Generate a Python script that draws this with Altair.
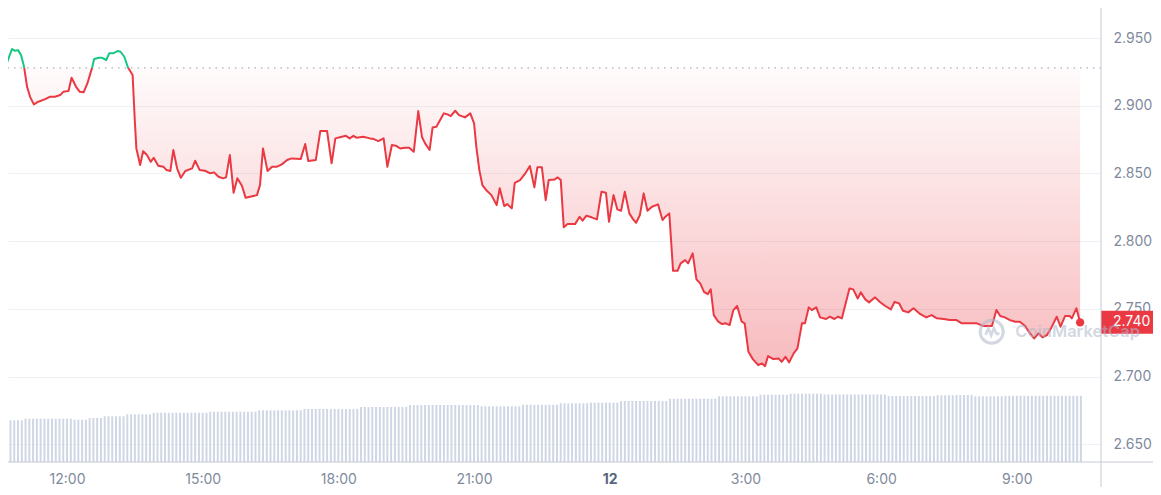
import altair as alt
import pandas as pd

# ---------------- data ----------------
BASELINE = 2.928  # opening price (dotted reference line)

# minutes after 10:30 (day 11)
price_minutes = [
    0, 5, 10, 17, 21, 25, 29, 33, 37, 41,
    46, 52, 61, 67, 74, 81, 85, 92, 96, 102,
    107, 112, 117, 123, 126, 132, 136, 142, 146, 151,
    157, 161, 166, 171, 177, 180, 182, 187, 191, 196,
    201, 205, 211, 218, 222, 227, 231, 236, 241, 247,
    256, 260, 266, 273, 280, 285, 291, 297, 301, 306,
    311, 316, 322, 327, 333, 342, 346, 350, 356, 362,
    368, 375, 382, 388, 400, 406, 410, 420, 426, 435,
    441, 446, 452, 460, 465, 470, 474, 483, 492, 497,
    503, 510, 515, 521, 526, 532, 538, 544, 550, 556,
    561, 565, 571, 575, 580, 585, 590, 595, 599, 605,
    610, 618, 625, 630, 633, 637, 641, 647, 653, 660,
    664, 670, 674, 680, 684, 691, 698, 704, 710, 714,
    720, 725, 729, 737, 741, 745, 749, 754, 764, 770,
    774, 779, 786, 793, 799, 805, 809, 815, 820, 825,
    830, 836, 841, 845, 850, 855, 860, 866, 874, 880,
    883, 889, 894, 900, 904, 910, 914, 920, 925, 930,
    935, 940, 944, 948, 954, 959, 964, 969, 974, 979,
    985, 989, 994, 1000, 1007, 1012, 1016, 1020, 1027, 1034,
    1038, 1043, 1048, 1054, 1059, 1065, 1069, 1074, 1078, 1084,
    1089, 1097, 1102, 1108, 1113, 1118, 1128, 1133, 1139, 1143,
    1149, 1154, 1162, 1168, 1175, 1183, 1188, 1194, 1199, 1206,
    1213, 1222, 1230, 1237, 1244, 1253, 1261, 1270, 1277, 1288,
    1297, 1306, 1317, 1323, 1328, 1334, 1341, 1348, 1354, 1361,
    1367, 1373, 1379, 1384, 1390, 1396, 1403, 1408, 1414, 1420,
    1423, 1429, 1434,
]
price_values = [
    2.9281, 2.9355, 2.9313, 2.9419, 2.9406, 2.9411, 2.9374, 2.9288, 2.9140, 2.9066,
    2.9010, 2.9030, 2.9049, 2.9066, 2.9066, 2.9079, 2.9103, 2.9109, 2.9207, 2.9140,
    2.9103, 2.9099, 2.9165, 2.9276, 2.9345, 2.9355, 2.9355, 2.9338, 2.9387, 2.9387,
    2.9404, 2.9399, 2.9362, 2.9281, 2.9227, 2.8882, 2.8685, 2.8562, 2.8665, 2.8636,
    2.8586, 2.8616, 2.8557, 2.8549, 2.8525, 2.8518, 2.8673, 2.8538, 2.8468, 2.8518,
    2.8538, 2.8594, 2.8525, 2.8520, 2.8501, 2.8508, 2.8476, 2.8464, 2.8471, 2.8636,
    2.8357, 2.8464, 2.8409, 2.8320, 2.8328, 2.8340, 2.8414, 2.8685, 2.8518, 2.8549,
    2.8549, 2.8567, 2.8599, 2.8611, 2.8606, 2.8717, 2.8592, 2.8599, 2.8813, 2.8813,
    2.8575, 2.8759, 2.8767, 2.8778, 2.8759, 2.8778, 2.8764, 2.8771, 2.8759, 2.8754,
    2.8739, 2.8759, 2.8549, 2.8710, 2.8705, 2.8685, 2.8690, 2.8690, 2.8660, 2.8961,
    2.8767, 2.8722, 2.8673, 2.8840, 2.8845, 2.8894, 2.8944, 2.8936, 2.8924, 2.8963,
    2.8931, 2.8914, 2.8944, 2.8870, 2.8697, 2.8525, 2.8414, 2.8372, 2.8340, 2.8267,
    2.8390, 2.8259, 2.8274, 2.8242, 2.8431, 2.8451, 2.8501, 2.8555, 2.8397, 2.8545,
    2.8545, 2.8303, 2.8451, 2.8456, 2.8471, 2.8451, 2.8102, 2.8126, 2.8126, 2.8180,
    2.8151, 2.8188, 2.8176, 2.8161, 2.8365, 2.8357, 2.8143, 2.8340, 2.8235, 2.8224,
    2.8365, 2.8205, 2.8161, 2.8136, 2.8193, 2.8353, 2.8224, 2.8254, 2.8272, 2.8156,
    2.8176, 2.8205, 2.7781, 2.7781, 2.7836, 2.7860, 2.7836, 2.7910, 2.7718, 2.7688,
    2.7626, 2.7609, 2.7644, 2.7454, 2.7405, 2.7388, 2.7393, 2.7380, 2.7491, 2.7521,
    2.7405, 2.7393, 2.7183, 2.7127, 2.7085, 2.7097, 2.7077, 2.7151, 2.7129, 2.7134,
    2.7109, 2.7146, 2.7105, 2.7171, 2.7208, 2.7393, 2.7393, 2.7511, 2.7491, 2.7511,
    2.7437, 2.7425, 2.7442, 2.7425, 2.7442, 2.7430, 2.7651, 2.7644, 2.7577, 2.7622,
    2.7570, 2.7548, 2.7585, 2.7552, 2.7523, 2.7496, 2.7552, 2.7540, 2.7486, 2.7474,
    2.7504, 2.7461, 2.7437, 2.7454, 2.7430, 2.7425, 2.7417, 2.7417, 2.7393, 2.7393,
    2.7393, 2.7373, 2.7373, 2.7491, 2.7447, 2.7437, 2.7417, 2.7405, 2.7405, 2.7373,
    2.7323, 2.7282, 2.7319, 2.7289, 2.7306, 2.7363, 2.7442, 2.7368, 2.7447, 2.7447,
    2.7430, 2.7504, 2.7400,
]

# 24h volume bars (one bar every 5 minutes), run-length levels
vol_levels = [4.17, 4.33, 4.23, 4.40, 4.57, 4.77, 4.93, 5.03, 5.17, 5.30, 5.50, 5.70, 5.57,
              5.73, 5.87, 5.93, 6.10, 6.33, 6.57, 6.73, 6.83, 6.75, 6.60, 6.67, 6.70, 6.57, 6.62]
vol_counts = [7, 13, 4, 4, 6, 7, 15, 13, 12, 15, 13, 19, 11,
              10, 8, 8, 13, 13, 11, 8, 9, 17, 13, 5, 5, 8, 21]
VOL_STEP = 5

tick_minutes = [90, 270, 450, 630, 810, 990, 1170, 1350]
tick_labels = ["12:00", "15:00", "18:00", "21:00", "12", "3:00", "6:00", "9:00"]
price_ticks = [2.65, 2.70, 2.75, 2.80, 2.85, 2.90, 2.95]

X_DOMAIN = [11.7, 1461.7]
Y_DOMAIN = [2.6369, 2.9722]
VOL_DOMAIN = [0, 45.4]

W, H = 1093, 454
PAD_R, PAD_B = 52, 25

RED = "#ea3943"
GREEN = "#16c784"
LABEL_GREY = "#808a9d"
FONT = "Inter"

# ---------------- build tables ----------------
def side_of(p):
    return "up" if p >= BASELINE else "down"

rows = []
seg = 0
cur = side_of(price_values[0])
rows.append(dict(m=price_minutes[0], p=price_values[0], seg=seg, side=cur))
for i in range(1, len(price_values)):
    m0, p0 = price_minutes[i - 1], price_values[i - 1]
    m1, p1 = price_minutes[i], price_values[i]
    s1 = side_of(p1)
    if s1 != cur:
        f = (BASELINE - p0) / (p1 - p0)
        mc = m0 + f * (m1 - m0)
        rows.append(dict(m=mc, p=BASELINE, seg=seg, side=cur))
        seg += 1
        cur = s1
        rows.append(dict(m=mc, p=BASELINE, seg=seg, side=cur))
    rows.append(dict(m=m1, p=p1, seg=seg, side=cur))
line_df = pd.DataFrame(rows)

area_df = line_df.drop_duplicates(subset=["m"]).sort_values("m").copy()
area_df["pa"] = area_df["p"].clip(upper=BASELINE)
area_df["base"] = BASELINE

vols = []
for lv, c in zip(vol_levels, vol_counts):
    vols += [lv] * c
vol_df = pd.DataFrame({"m": [i * VOL_STEP for i in range(len(vols))], "v": vols, "zero": 0.0})

last_p = price_values[-1]
last_df = pd.DataFrame({
    "m": [price_minutes[-1]], "p": [last_p],
    "top": [last_p + 0.0086], "bot": [last_p - 0.0084],
    "lbl": [f"{last_p:.3f}"],
})
base_df = pd.DataFrame({"b": [BASELINE]})
one_df = pd.DataFrame({"k": [0]})
wm_df = pd.DataFrame({"m": [1348.0], "p": [2.7331], "t": ["CoinMarketCap"]})
logo_df = pd.DataFrame({"m": [1316.7], "p": [2.7331]})

# ---------------- scales & axes ----------------
label_expr = " : ".join(f"datum.value == {m} ? '{l}'" for m, l in zip(tick_minutes, tick_labels)) + " : ''"
bold_test = f"datum.value == {tick_minutes[tick_labels.index('12')]}"

x_scale = alt.Scale(domain=X_DOMAIN, nice=False, zero=False)
x_axis = alt.Axis(
    values=tick_minutes, labelExpr=label_expr, title=None, grid=False, domain=False,
    ticks=False, labelFontSize=14, labelFont=FONT, labelPadding=10, labelFlush=False,
    labelOverlap=False,
    labelColor={"condition": {"test": bold_test, "value": "#58667e"}, "value": LABEL_GREY},
    labelFontWeight={"condition": {"test": bold_test, "value": "bold"}, "value": "normal"},
)
y_scale = alt.Scale(domain=Y_DOMAIN, nice=False, zero=False)
y_axis = alt.Axis(
    orient="right", values=price_ticks, format=".3f", title=None, domain=False,
    ticks=False, labelPadding=12, labelFontSize=14, labelFont=FONT, labelColor=LABEL_GREY,
    grid=True, gridColor="#eff2f5", gridWidth=1,
)

X = alt.X("m:Q", scale=x_scale, axis=x_axis)

def Yp(field):
    return alt.Y(field, scale=y_scale, axis=y_axis)

# ---------------- layers ----------------
volume = alt.Chart(vol_df).mark_rule(strokeWidth=2, color="#cfd6e4", clip=True).encode(
    x=X,
    y=alt.Y("v:Q", scale=alt.Scale(domain=VOL_DOMAIN, nice=False, zero=True), axis=None),
    y2="zero:Q",
)

gradient = alt.Gradient(
    gradient="linear",
    stops=[alt.GradientStop(color="rgba(234,57,67,0.02)", offset=0),
           alt.GradientStop(color="rgba(234,57,67,0.34)", offset=1)],
    x1=0, x2=0, y1=0, y2=1,
)
area = alt.Chart(area_df).mark_area(clip=True, fill=gradient, strokeWidth=0).encode(
    x=X, y=Yp("pa:Q"), y2="base:Q"
)

base_rule = alt.Chart(base_df).mark_rule(
    color="#a7b1c2", strokeDash=[1.5, 5], strokeWidth=1.2
).encode(y=Yp("b:Q"))

line = alt.Chart(line_df).mark_line(strokeWidth=2, clip=True, strokeJoin="round").encode(
    x=X, y=Yp("p:Q"), detail="seg:N",
    color=alt.Color("side:N", scale=alt.Scale(domain=["up", "down"], range=[GREEN, RED]), legend=None),
)

dot = alt.Chart(last_df).mark_circle(size=70, color=RED, opacity=1).encode(x=X, y=Yp("p:Q"))

label_box = alt.Chart(last_df).mark_rect(color=RED).encode(
    x=alt.value(W), x2=alt.value(W + PAD_R), y=Yp("top:Q"), y2="bot:Q"
)
label_txt = alt.Chart(last_df).mark_text(
    align="left", baseline="middle", color="white", fontSize=14, font=FONT, dx=12
).encode(x=alt.value(W), y=Yp("p:Q"), text="lbl:N")

watermark = alt.Chart(wm_df).mark_text(
    align="left", baseline="middle", fontSize=16.5, font=FONT, fontWeight=600,
    color="#aeb8cb", opacity=0.55,
).encode(x=X, y=Yp("p:Q"), text="t:N")
logo_ring = alt.Chart(logo_df).mark_point(
    shape="circle", filled=False, size=530, strokeWidth=3, color="#aeb8cb", opacity=0.55
).encode(x=X, y=Yp("p:Q"))
logo_wave = alt.Chart(logo_df).mark_point(
    shape="M-0.6,0.3 L-0.32,-0.35 L-0.05,0.35 L0.22,-0.35 L0.45,0.15 Q0.55,0.35 0.72,0.1",
    filled=False, size=420, strokeWidth=2.6, color="#aeb8cb", opacity=0.55,
).encode(x=X, y=Yp("p:Q"))

v_line = alt.Chart(one_df).mark_rule(color="#c5cad3", strokeWidth=1).encode(
    x=alt.value(W), y=alt.value(0), y2=alt.value(H + PAD_B)
)
h_line = alt.Chart(one_df).mark_rule(color="#c5cad3", strokeWidth=1).encode(
    x=alt.value(0), x2=alt.value(W + PAD_R), y=alt.value(H)
)

price_layer = alt.layer(area, base_rule, line, dot, label_box, label_txt,
                        logo_ring, logo_wave, watermark)

chart = (
    alt.layer(volume, price_layer, v_line, h_line)
    .resolve_scale(y="independent")
    .properties(
        width=W, height=H,
        autosize=alt.AutoSizeParams(type="none"),
        padding={"left": 0, "top": 0, "right": PAD_R, "bottom": PAD_B},
        background="white",
    )
    .configure_view(stroke=None)
)

chart.save("out.html", embed_options={"renderer": "svg", "actions": False})
